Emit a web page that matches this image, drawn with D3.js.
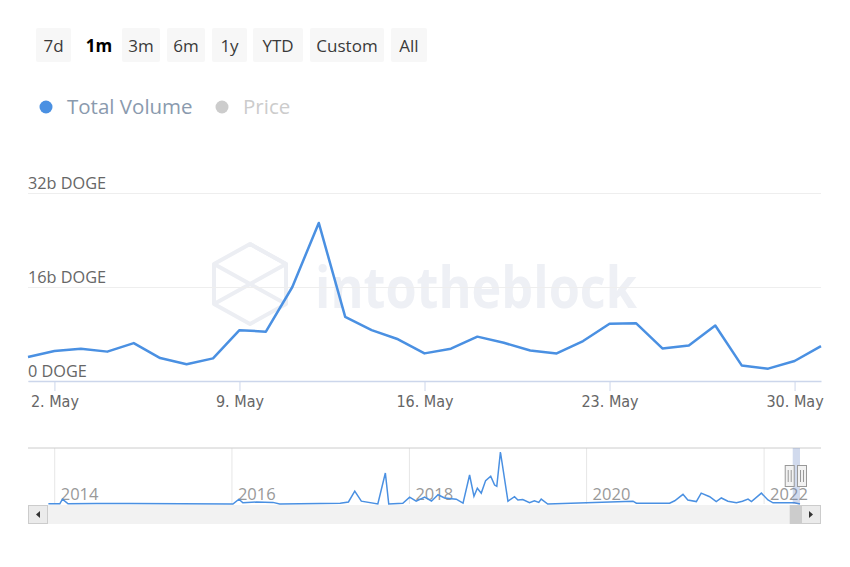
<!DOCTYPE html>
<html>
<head>
<meta charset="utf-8">
<script src="https://cdn.jsdelivr.net/npm/d3@7"></script>
<style>
  body { margin: 0; background: #fff; }
  svg { display: block; font-family: "Open Sans", sans-serif; }
</style>
</head>
<body>
<svg id="chart" width="850" height="567"></svg>
<script>
// Range selector buttons
const rangeButtons = ["7d", "1m", "3m", "6m", "1y", "YTD", "Custom", "All"];
const selectedButton = "1m";

// Legend entries
const seriesNames = ["Total Volume", "Price"];

// Daily total volume, May 2021 (billions of DOGE)
const volumeDays = d3.range(1, 32);
const volumeValues = [4.1, 5.1, 5.5, 5.0, 6.45, 3.9, 2.85, 3.85, 8.65, 8.4, 16.0, 26.9, 10.9, 8.65, 7.1, 4.7,
  5.5, 7.55, 6.5, 5.2, 4.7, 6.8, 9.75, 9.85, 5.55, 6.05, 9.45, 2.65, 2.1, 3.4, 5.95];

const yTickValues = [0, 16, 32];
const yTickLabels = ["0 DOGE", "16b DOGE", "32b DOGE"];
const xTickDays = [2, 9, 16, 23, 30];

// Navigator (full history) series
const navDates = ["2013-12-08", "2014-01-24", "2014-02-04", "2014-02-27", "2014-06-24", "2014-11-07",
  "2016-01-07", "2016-02-01", "2016-02-17", "2016-04-13", "2016-06-20", "2016-07-18",
  "2017-03-24", "2017-04-27", "2017-05-23", "2017-06-19", "2017-08-26", "2017-09-26", "2017-10-10",
  "2017-12-07", "2018-01-04", "2018-01-31", "2018-03-07", "2018-04-04", "2018-05-01", "2018-05-28",
  "2018-07-15", "2018-08-12", "2018-09-08", "2018-09-26", "2018-10-10", "2018-10-26", "2018-11-13",
  "2018-12-04", "2018-12-20", "2018-12-29", "2019-01-13", "2019-02-13", "2019-03-12", "2019-03-26",
  "2019-04-15", "2019-05-13", "2019-06-02", "2019-06-20", "2019-06-30", "2019-07-27",
  "2020-07-12", "2020-07-26", "2020-12-10", "2020-12-31", "2021-02-03", "2021-02-23", "2021-03-30",
  "2021-04-19", "2021-05-24", "2021-06-20", "2021-07-11", "2021-08-07", "2021-09-11", "2021-10-06",
  "2021-10-29", "2021-11-12", "2021-12-23", "2022-01-19", "2022-02-09", "2022-05-08", "2022-05-31"];
const navValues = [0.5, 0.5, 12, 0.5, 1, 1,
  0, 12, 3, 5, 4, 0,
  2, 5, 32, 7, 0, 77, 0,
  2, 17, 7, 17, 7, 23, 15,
  12, 2, 72, 19, 39, 27, 58,
  69, 47, 44, 129, 7, 18, 10,
  11, 3, 8, 4, 12, 0,
  7, 2, 2, 8, 24, 10, 6,
  27, 18, 6, 15, 7, 3, 7,
  12, 6, 27, 10, 3, 3, 0];
const navYears = [2014, 2016, 2018, 2020, 2022];

const svg = d3.select("#chart");
const parseDate = d3.timeParse("%Y-%m-%d");

// ---- Range selector buttons
const buttonLayout = [
  {x: 36, w: 35}, {x: 80, w: 38}, {x: 122, w: 38}, {x: 167, w: 38},
  {x: 212, w: 35}, {x: 253, w: 50}, {x: 310, w: 74}, {x: 391, w: 36}
];
const btn = svg.append("g").attr("class", "range-buttons")
  .selectAll("g")
  .data(rangeButtons)
  .enter()
  .append("g")
  .attr("transform", (d, i) => `translate(${buttonLayout[i].x},28)`);

btn.append("rect")
  .attr("width", (d, i) => buttonLayout[i].w)
  .attr("height", 34)
  .attr("rx", 2)
  .attr("fill", d => d === selectedButton ? "#ffffff" : "#f7f7f7");

btn.append("text")
  .attr("x", (d, i) => buttonLayout[i].w / 2)
  .attr("y", 24)
  .attr("text-anchor", "middle")
  .attr("font-size", "17px")
  .attr("font-weight", d => d === selectedButton ? 700 : 400)
  .attr("fill", d => d === selectedButton ? "#000" : "#3a3a3a")
  .text(d => d);

// ---- Legend
const legendColors = ["#4a90e2", "#cccccc"];
const legendText = ["#8a9aae", "#cccccc"];
const legendX = [46, 222];
const legend = svg.append("g").attr("class", "legend")
  .selectAll("g")
  .data(seriesNames)
  .enter()
  .append("g")
  .attr("transform", (d, i) => `translate(${legendX[i]},107)`);
legend.append("circle").attr("r", 6.5).attr("fill", (d, i) => legendColors[i]);
legend.append("text")
  .attr("x", 21)
  .attr("y", 7)
  .attr("font-size", "20.5px")
  .attr("fill", (d, i) => legendText[i])
  .text(d => d);

// ---- Main chart
const plot = {left: 28, right: 821, top: 193, bottom: 381};
const volumeData = volumeDays.map((day, i) => ({date: new Date(2021, 4, day), value: volumeValues[i]}));

const x = d3.scaleTime()
  .domain([new Date(2021, 4, 1), new Date(2021, 4, 31)])
  .range([plot.left, plot.right]);

const y = d3.scaleLinear()
  .domain([0, 32])
  .range([plot.bottom, plot.top]);

// Watermark
const wm = svg.append("g").attr("class", "watermark").attr("fill", "none")
  .attr("stroke", "#eceef3").attr("stroke-width", 4).attr("stroke-linejoin", "round");
wm.append("path").attr("d", "M250,244 L286,264 L286,304 L250,324 L214,304 L214,264 Z");
wm.append("path").attr("d", "M214,264 L286,304 M286,264 L214,304 M250,244 L286,264 L250,284 L214,264");
svg.append("text")
  .attr("x", 315)
  .attr("y", 308)
  .attr("font-size", "57px")
  .attr("font-weight", 700)
  .attr("fill", "#eef0f5")
  .attr("textLength", 322)
  .attr("lengthAdjust", "spacingAndGlyphs")
  .text("intotheblock");

// Grid lines + y labels
const yAxis = svg.append("g")
  .attr("class", "y-axis")
  .attr("transform", `translate(${plot.left},0)`)
  .call(d3.axisRight(y)
    .tickValues(yTickValues)
    .tickSize(plot.right - plot.left)
    .tickFormat((d, i) => yTickLabels[i]));
yAxis.select(".domain").remove();
yAxis.selectAll("line").attr("stroke", "#eeeeee");
yAxis.selectAll("text")
  .attr("x", 0)
  .attr("dy", "-5px")
  .attr("fill", "#666")
  .attr("font-size", "16.3px")
  .attr("font-family", "'Open Sans', sans-serif");

// X axis
const xAxis = svg.append("g")
  .attr("class", "x-axis")
  .attr("transform", `translate(0,${plot.bottom})`)
  .call(d3.axisBottom(x)
    .tickValues(xTickDays.map(d => new Date(2021, 4, d)))
    .tickSize(10)
    .tickSizeOuter(0)
    .tickPadding(5)
    .tickFormat(d3.timeFormat("%-d. %b")));
xAxis.select(".domain").attr("stroke", "#ccd6eb").attr("stroke-width", 1.5);
xAxis.selectAll("line").attr("stroke", "#ccd6eb");
xAxis.selectAll("text")
  .attr("fill", "#666")
  .attr("font-size", "16px")
  .attr("font-family", "'DejaVu Sans Condensed', 'DejaVu Sans', sans-serif")
  .style("font-stretch", "condensed");

// Volume line
const line = d3.line()
  .x(d => x(d.date))
  .y(d => y(d.value));
svg.append("path")
  .datum(volumeData)
  .attr("class", "volume-line")
  .attr("fill", "none")
  .attr("stroke", "#4a90e2")
  .attr("stroke-width", 2.5)
  .attr("stroke-linejoin", "round")
  .attr("d", line);

// ---- Navigator
const nav = {left: 28, right: 800, top: 448, bottom: 504, end: 821};
const navData = navDates.map((d, i) => ({date: parseDate(d), value: navValues[i]}));

const nx = d3.scaleTime()
  .domain([parseDate("2013-09-15"), parseDate("2022-05-31")])
  .range([nav.left, nav.right]);
const ny = d3.scaleLinear()
  .domain([0, d3.max(navValues)])
  .range([nav.bottom, nav.top + 4]);

const navAxis = svg.append("g")
  .attr("class", "nav-axis")
  .attr("transform", `translate(0,${nav.top})`)
  .call(d3.axisBottom(nx)
    .tickValues(navYears.map(yr => new Date(yr, 0, 1)))
    .tickSize(nav.bottom - nav.top)
    .tickSizeOuter(0)
    .tickFormat(d3.timeFormat("%Y")));
navAxis.select(".domain").remove();
navAxis.selectAll("line").attr("stroke", "#e6e6e6");
navAxis.selectAll("text")
  .attr("text-anchor", "start")
  .attr("x", 6)
  .attr("y", 52)
  .attr("dy", 0)
  .attr("fill", "#999")
  .attr("font-size", "16.5px")
  .attr("font-family", "'Open Sans', sans-serif");

svg.append("line")
  .attr("x1", nav.left).attr("x2", nav.end)
  .attr("y1", nav.top).attr("y2", nav.top)
  .attr("stroke", "#cccccc");

svg.append("path")
  .datum(navData)
  .attr("fill", "none")
  .attr("stroke", "#4a90e2")
  .attr("stroke-width", 1.5)
  .attr("d", d3.line().x(d => nx(d.date)).y(d => ny(d.value)));

// Selected range mask
const selStart = nx(parseDate("2022-05-01"));
const selEnd = nx(parseDate("2022-05-31"));
svg.append("rect")
  .attr("x", selStart).attr("y", nav.top)
  .attr("width", selEnd - selStart).attr("height", nav.bottom - nav.top)
  .attr("fill", "rgba(102,133,194,0.3)");

// Scrollbar
const sb = svg.append("g").attr("class", "scrollbar");
sb.append("rect").attr("x", nav.left).attr("y", 505).attr("width", nav.end - nav.left).attr("height", 19)
  .attr("fill", "#f2f2f2");
sb.append("rect").attr("x", selStart - 3).attr("y", 505).attr("width", 13).attr("height", 19)
  .attr("fill", "#cccccc");
sb.append("rect").attr("x", nav.left + 0.5).attr("y", 505.5).attr("width", 19).attr("height", 18)
  .attr("fill", "#ebebeb").attr("stroke", "#cccccc");
sb.append("rect").attr("x", nav.end - 19.5).attr("y", 505.5).attr("width", 19).attr("height", 18)
  .attr("fill", "#ebebeb").attr("stroke", "#cccccc");
sb.append("path").attr("d", `M${nav.left + 12},511 L${nav.left + 8},514.5 L${nav.left + 12},518 Z`).attr("fill", "#333");
sb.append("path").attr("d", `M${nav.end - 12},511 L${nav.end - 8},514.5 L${nav.end - 12},518 Z`).attr("fill", "#333");

// Handles
[selStart - 3, selEnd + 2].forEach(hx => {
  const h = svg.append("g").attr("transform", `translate(${hx},476)`);
  h.append("rect").attr("x", -4.5).attr("y", -10.5).attr("width", 9).attr("height", 21)
    .attr("fill", "#f2f2f2").attr("stroke", "#999").attr("stroke-width", 1);
  h.append("path").attr("d", "M-1.5,-6 L-1.5,6 M1.5,-6 L1.5,6").attr("stroke", "#999").attr("stroke-width", 1);
});
</script>
</body>
</html>
